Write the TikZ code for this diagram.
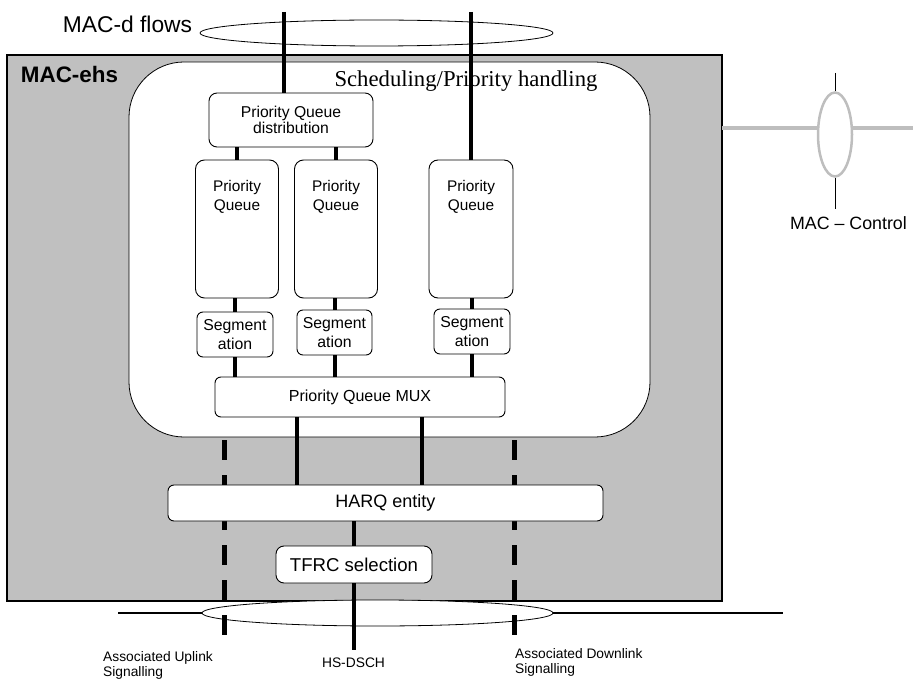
\documentclass[tikz,border=0pt]{standalone}
\usepackage{fontspec}
\setmainfont{Liberation Sans}
\newfontfamily\timesfont{Liberation Serif}
\usepackage{tikz}
\usetikzlibrary{shapes.geometric, positioning, calc}
\definecolor{macgray}{RGB}{192, 192, 192}
\definecolor{ctrlgray}{RGB}{190, 190, 190}

\tikzset{
    blockbox/.style={draw, fill=white, rounded corners=6pt, align=center, inner sep=0pt, line width=0.9pt},
    queuebox/.style={blockbox, rounded corners=9pt, minimum width=83pt, minimum height=138pt},
    segbox/.style={blockbox, minimum width=76pt, minimum height=45pt, font=\fontsize{15.8}{19}\selectfont},
    queuetext/.style={align=center, inner sep=0pt, font=\fontsize{15.4}{19}\selectfont},
    bundle/.style={ellipse, draw, fill=white, line width=0.8pt, inner sep=0pt},
    flowline/.style={line width=4pt},
    sigline/.style={line width=5pt, dash pattern=on 20pt off 15pt},
    signote/.style={anchor=north west, align=left, inner sep=0pt, font=\fontsize{13.8}{15}\selectfont}
}

\begin{document}
\begin{tikzpicture}[x=1pt, y=-1pt]
        \useasboundingbox (0,0) rectangle (913,679);

        % MAC-ehs entity
        \draw[fill=macgray, line width=1.2pt] (7,55) rectangle (722,601);
        \node[anchor=base, font=\fontsize{22.4}{26}\selectfont\bfseries] (ehslabel) at (69.5,83) {MAC-ehs};
        \draw[fill=white, line width=0.8pt, rounded corners=55pt] (129,62) rectangle (650,437);
        \node[anchor=base, font=\timesfont\fontsize{22.7}{26}\selectfont] (schedlabel) at (466,87) {Scheduling/Priority handling};

        % Bundles
        \node[bundle, minimum width=353pt, minimum height=26pt] (mdflows) at (376.5,33) {};
        \node[anchor=base, font=\fontsize{22.8}{26}\selectfont] (mdlabel) at (127.5,33) {MAC-d flows};
        \node[bundle, minimum width=351pt, minimum height=26pt] (hsbundle) at (377.5,613) {};
        \coordinate (extL) at (118,613);
        \coordinate (extR) at (783,613);
        \draw[line width=1.6pt] (extL) -- (hsbundle.west);
        \draw[line width=1.6pt] (hsbundle.east) -- (extR);

        % MAC-Control
        \coordinate (ctrlL) at (722,128);
        \coordinate (ctrlR) at (913,128);
        \draw[ctrlgray, line width=4pt] (ctrlL) -- (ctrlR);
        \node[bundle, draw=ctrlgray, line width=2.5pt, minimum width=34pt, minimum height=84pt] (ctrlbundle) at (835,134.5) {};
        \coordinate (ctrlT) at (835,73);
        \coordinate (ctrlB) at (835,209);
        \draw[line width=0.8pt] (ctrlT) -- (ctrlbundle.north);
        \draw[line width=0.8pt] (ctrlbundle.south) -- (ctrlB);
        \node[anchor=base, font=\fontsize{17.8}{20}\selectfont] (ctrllabel) at (848.5,229.5) {MAC -- Control};

        % Associated signalling
        \coordinate (ulT) at (224,440);
        \coordinate (ulB) at (224,645);
        \coordinate (dlT) at (514,440);
        \coordinate (dlB) at (514,645);
        \draw[sigline] (ulT) -- (ulB);
        \draw[sigline] (dlT) -- (dlB);

        % Functional blocks
        \node[blockbox, rounded corners=8pt, minimum width=164pt, minimum height=54pt, font=\fontsize{15.7}{16}\selectfont] (pqdist) at (291,120) {Priority Queue\\distribution};

        \node[queuebox] (pq1) at (237,229) {};
        \node[queuebox] (pq2) at (336,229) {};
        \node[queuebox, minimum width=84pt] (pq3) at (471,229) {};
        \node[queuetext, below=21pt of pq1.north] (pq1text) {Priority\\Queue};
        \node[queuetext, below=21pt of pq2.north] (pq2text) {Priority\\Queue};
        \node[queuetext, below=21pt of pq3.north] (pq3text) {Priority\\Queue};

        \node[segbox] (seg1) at (235,334.5) {Segment\\ation};
        \node[segbox, minimum width=75pt] (seg2) at (334.5,332.5) {Segment\\ation};
        \node[segbox] (seg3) at (472,331.5) {Segment\\ation};

        \node[blockbox, minimum width=290pt, minimum height=40pt, font=\fontsize{16}{18}\selectfont] (mux) at (360,397) {Priority Queue MUX};
        \node[blockbox, minimum width=435pt, minimum height=36pt, font=\fontsize{18}{20}\selectfont] (harq) at (385.5,503) {HARQ entity};
        \node[blockbox, rounded corners=8pt, minimum width=156pt, minimum height=37pt, font=\fontsize{18.6}{20}\selectfont] (tfrc) at (354,564.5) {TFRC selection};

        % Flows
        \coordinate (flowA) at (284,12);
        \coordinate (flowB) at (471,12);
        \coordinate (muxA) at ($(mux.south)+(-63,0)$);
        \coordinate (muxB) at ($(mux.south)+(62,0)$);
        \coordinate (hsB) at (354,650);
        \draw[flowline] (flowA) -- (flowA |- pqdist.north);
        \draw[flowline] (flowB) -- (pq3.north);
        \draw[flowline] (pqdist.south -| pq1.north) -- (pq1.north);
        \draw[flowline] (pqdist.south -| pq2.north) -- (pq2.north);
        \draw[flowline] (seg1.north |- pq1.south) -- (seg1.north);
        \draw[flowline] (seg2.north |- pq2.south) -- (seg2.north);
        \draw[flowline] (seg3.north |- pq3.south) -- (seg3.north);
        \draw[flowline] (seg1.south) -- (seg1.south |- mux.north);
        \draw[flowline] (seg2.south) -- (seg2.south |- mux.north);
        \draw[flowline] (seg3.south) -- (seg3.south |- mux.north);
        \draw[flowline] (muxA) -- (muxA |- harq.north);
        \draw[flowline] (muxB) -- (muxB |- harq.north);
        \draw[flowline] (harq.south -| tfrc.north) -- (tfrc.north);
        \draw[flowline] (tfrc.south) -- (hsB);

        % Labels
        \node[signote] (ullabel) at (103,651.5) {Associated Uplink\\Signalling};
        \node[font=\fontsize{13.8}{15}\selectfont] (hslabel) at (353.5,663) {HS-DSCH};
        \node[signote] (dllabel) at (515,648.5) {Associated Downlink\\Signalling};

    \end{tikzpicture}
\end{document}
